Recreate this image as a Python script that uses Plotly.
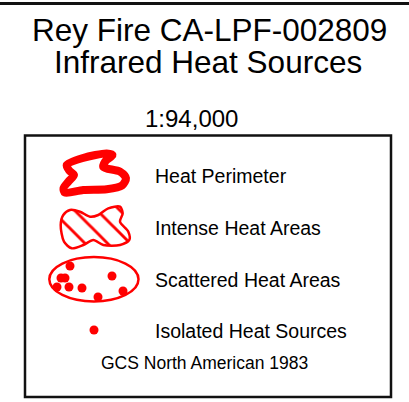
import plotly.graph_objects as go

W, H = 409, 402
FONT = "Arial, Liberation Sans, sans-serif"
RED = "#ff0000"

title_lines = ["Rey Fire CA-LPF-002809", "Infrared Heat Sources"]
scale_text = "1:94,000"
legend_labels = ["Heat Perimeter", "Intense Heat Areas", "Scattered Heat Areas", "Isolated Heat Sources"]
datum_text = "GCS North American 1983"

# legend symbol outlines (pixel coordinates in the legend box)
perim_x = [66.7, 83, 106.7, 112.5, 105, 103.3, 120, 126, 122, 106.7, 83.3, 65, 63.5, 68.3, 74, 69.3, 66.7]
perim_y = [165, 158, 153.5, 155, 161.7, 167, 171.7, 178.3, 185.5, 189.3, 190, 192.7, 188.3, 181.7, 175, 170.7, 165]

intense_x = [70, 80, 90, 98.3, 108.3, 120, 122.7, 120, 128.3, 129.3, 120, 103.3, 93.3, 83.3, 71.7, 64, 60.7, 63.3, 70]
intense_y = [210, 211.7, 216.7, 215, 208.3, 206.7, 213.3, 221.7, 231.7, 240, 245, 245, 240, 245, 248.3, 241.7, 225, 215, 210]

scatter_dots_x = [70, 61, 65, 57, 69, 82, 98, 112, 123]
scatter_dots_y = [266, 278, 278, 287, 287, 288, 297, 276, 291]

isolated_x = [94]
isolated_y = [330]

fig = go.Figure()

fig.add_trace(go.Scatter(
    x=perim_x, y=perim_y, mode="lines",
    line=dict(color=RED, width=8, shape="spline", smoothing=0.8),
    hoverinfo="skip", showlegend=False))

fig.add_trace(go.Scatter(
    x=intense_x, y=intense_y, mode="lines", fill="toself",
    fillcolor="white",
    fillpattern=dict(shape="\\", fgcolor=RED, fgopacity=1, bgcolor="white", size=16, solidity=0.18),
    line=dict(color=RED, width=2.5, shape="spline", smoothing=0.8),
    hoverinfo="skip", showlegend=False))

fig.add_trace(go.Scatter(
    x=scatter_dots_x, y=scatter_dots_y, mode="markers",
    marker=dict(color=RED, size=9, line=dict(width=0)),
    hoverinfo="skip", showlegend=False))

fig.add_trace(go.Scatter(
    x=isolated_x, y=isolated_y, mode="markers",
    marker=dict(color=RED, size=9, line=dict(width=0)),
    hoverinfo="skip", showlegend=False))

shapes = [
    dict(type="line", xref="x", yref="y", x0=0, x1=W, y0=3.5, y1=3.5,
         line=dict(color="#111", width=2.5), layer="above"),
    dict(type="rect", xref="x", yref="y", x0=25, x1=391, y0=135.5, y1=397,
         line=dict(color="#111", width=2.5), layer="below"),
    dict(type="circle", xref="x", yref="y", x0=49.3, x1=138.5, y0=257, y1=301.5,
         line=dict(color=RED, width=2.5), layer="below"),
]

annotations = []
def txt(t, x, y, size, anchor="center"):
    annotations.append(dict(text=t, x=x, y=y, xref="x", yref="y", xanchor=anchor, yanchor="middle",
                            showarrow=False, font=dict(family=FONT, size=size, color="black")))

txt(title_lines[0], 209, 30, 31.5)
txt(title_lines[1], 208, 62, 31.5)
txt(scale_text, 191.5, 118.5, 24)
for lab, yy in zip(legend_labels, [175.5, 227.5, 279.5, 330.5]):
    txt(lab, 153, yy, 19.5, anchor="left")
txt(datum_text, 204, 363, 17.5)

fig.update_layout(
    width=W, height=H, margin=dict(l=0, r=0, t=0, b=0),
    paper_bgcolor="white", plot_bgcolor="white",
    xaxis=dict(range=[0, W], visible=False, fixedrange=True),
    yaxis=dict(range=[H, 0], visible=False, fixedrange=True),
    shapes=shapes, annotations=annotations, showlegend=False,
)

# remove the default page margin; also draw the top rule as a page-level element in case
# the svg top rows are hidden
post = (
    "document.body.style.margin='0';document.body.style.overflow='hidden';"
    "var d=document.createElement('div');"
    "d.style.cssText='position:fixed;left:0;top:2px;width:409px;height:3px;background:#111;z-index:9999';"
    "document.body.appendChild(d);"
)
fig.write_html("out.html", config={"displayModeBar": False}, post_script=post)
